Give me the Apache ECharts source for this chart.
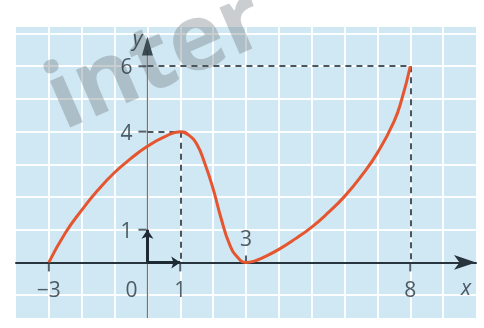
<!DOCTYPE html>
<html>
<head>
<meta charset="utf-8">
<script src="https://cdn.jsdelivr.net/npm/echarts@6/dist/echarts.min.js"></script>
<style>
  html, body { margin: 0; padding: 0; background: #fff; }
  #chart { width: 484px; height: 328px; }
</style>
</head>
<body>
<div id="chart"></div>
<script>
// axis window (what the blue paper shows)
const xMin = -4;
const xMax = 10;
const yMin = -1.7;
const yMax = 7.2;

// white squared paper
const gridXs = [-3, -2, -1, 0, 1, 2, 3, 4, 5, 6, 7, 8, 9];
const gridYs = [-1, 0, 1, 2, 3, 4, 5, 6, 7];

// the curve
const curveX = [-3, -2.5, -2, -1.5, -1, -0.5, 0, 0.5, 1, 1.25, 1.5, 1.75, 2, 2.25, 2.5, 2.75, 3, 3.25,
  3.5, 4, 4.5, 5, 5.5, 6, 6.5, 7, 7.5, 7.75, 8];
const curveY = [0, 0.9, 1.6, 2.22, 2.75, 3.18, 3.55, 3.83, 4, 3.9, 3.62, 3.02, 2.25, 1.32, 0.55, 0.15, 0, 0.04,
  0.14, 0.4, 0.72, 1.08, 1.52, 2.02, 2.63, 3.35, 4.3, 5.02, 6];

// marked points
const maxPoint = [1, 4];
const endPoint = [8, 6];

// tick labels
const xTickLabels = [-3, 1, 8];
const yTickLabels = [1, 4, 6];
const zeroTick = 3;

const fmt = v => (v < 0 ? '\u2212' + Math.abs(v) : String(v));
const textColor = '#2b3640';
const labelFont = { fontFamily: 'Open Sans', fontSize: 21, color: textColor };

const chart = echarts.init(document.getElementById('chart'), null, { renderer: 'canvas' });

const gridLines = [];
gridXs.forEach((x) => gridLines.push({ coords: [[x, yMin], [x, yMax]] }));
gridYs.forEach((y) => gridLines.push({ coords: [[xMin, y], [xMax, y]] }));

const guideLines = [
  { coords: [[0, maxPoint[1]], maxPoint] },
  { coords: [maxPoint, [maxPoint[0], 0]] },
  { coords: [[0, endPoint[1]], endPoint] },
  { coords: [endPoint, [endPoint[0], 0]] }
];

const ticks = [];
xTickLabels.forEach((x) => ticks.push({ value: [x, 0], symbolSize: [2, 9], symbolOffset: [0, 4.5] }));
ticks.push({ value: [zeroTick, 0], symbolSize: [2, 7], symbolOffset: [0, -3.5] });
yTickLabels.forEach((y) => ticks.push({ value: [0, y], symbolSize: [8, 2], symbolOffset: [-5, 0] }));

const labels = [];
xTickLabels.forEach((x) => labels.push({
  value: [x, 0],
  label: { formatter: fmt(x), position: 'bottom', distance: 18 }
}));
yTickLabels.forEach((y) => labels.push({
  value: [0, y],
  label: { formatter: fmt(y), position: 'left', distance: 15, offset: [0, 2] }
}));
labels.push({ value: [0, 0], label: { formatter: '0', position: 'bottom', distance: 18, offset: [-16, 0] } });
labels.push({ value: [zeroTick, 0], label: { formatter: fmt(zeroTick), position: 'top', distance: 12 } });
labels.push({ value: [9.7, 0], label: { formatter: 'x', position: 'bottom', distance: 16, fontStyle: 'italic' } });
labels.push({ value: [0, 6.9], label: { formatter: 'y', position: 'left', distance: 5, offset: [0, 3], fontStyle: 'italic' } });

chart.setOption({
  animation: false,
  grid: {
    left: 16, right: 8, top: 27, bottom: 10,
    show: true, backgroundColor: '#cfe8f3', borderWidth: 0
  },
  xAxis: {
    type: 'value', min: xMin, max: xMax, z: 4,
    axisLine: {
      onZero: true,
      symbol: ['none', 'arrow'],
      symbolSize: [11, 22],
      symbolOffset: [0, 0],
      lineStyle: { color: '#27333d', width: 2 }
    },
    axisTick: { show: false },
    axisLabel: { show: false },
    splitLine: { show: false }
  },
  yAxis: {
    type: 'value', min: yMin, max: yMax,
    axisLine: { show: false },
    axisTick: { show: false },
    axisLabel: { show: false },
    splitLine: { show: false }
  },
  graphic: [{
    type: 'text',
    z: 2,
    x: 157, y: 61,
    rotation: 0.41,
    style: {
      text: 'inter',
      fontFamily: 'Open Sans',
      fontSize: 93,
      fontWeight: 'bold',
      fill: 'rgba(110, 118, 124, 0.36)',
      align: 'center',
      verticalAlign: 'middle'
    }
  }],
  series: [
    {
      name: 'paper',
      type: 'lines',
      coordinateSystem: 'cartesian2d',
      z: 1,
      silent: true,
      lineStyle: { color: 'rgba(255,255,255,0.9)', width: 2, opacity: 1 },
      data: gridLines
    },
    {
      name: 'y axis',
      type: 'lines',
      coordinateSystem: 'cartesian2d',
      z: 3,
      lineStyle: { color: '#6b7b85', width: 1.3, opacity: 1 },
      data: [{ coords: [[0, yMin], [0, 6.5]] }]
    },
    {
      name: 'guides',
      type: 'lines',
      coordinateSystem: 'cartesian2d',
      z: 3,
      lineStyle: { color: '#4b555d', width: 2, type: [6, 5], opacity: 1 },
      data: guideLines
    },
    {
      name: 'unit vectors',
      type: 'lines',
      coordinateSystem: 'cartesian2d',
      z: 5,
      symbol: ['none', 'arrow'],
      symbolSize: 9,
      lineStyle: { color: '#1e2a33', width: 3, opacity: 1 },
      data: [
        { coords: [[0, 0], [0, 1]] },
        { coords: [[0, 0], [1, 0]] }
      ]
    },
    {
      name: 'ticks',
      type: 'scatter',
      z: 5,
      symbol: 'rect',
      itemStyle: { color: '#2c3842' },
      data: ticks
    },
    {
      name: 'y arrow',
      type: 'scatter',
      z: 5,
      symbol: 'triangle',
      symbolSize: [11, 19],
      itemStyle: { color: '#1e2a33' },
      data: [[0, 6.62]]
    },
    {
      name: 'f',
      type: 'line',
      z: 6,
      smooth: 0.5,
      showSymbol: false,
      lineStyle: { color: '#e5552f', width: 3 },
      data: curveX.map((x, i) => [x, curveY[i]])
    },
    {
      name: 'labels',
      type: 'scatter',
      z: 7,
      symbolSize: 0,
      label: Object.assign({ show: true }, labelFont),
      data: labels
    }
  ]
});
</script>
</body>
</html>
